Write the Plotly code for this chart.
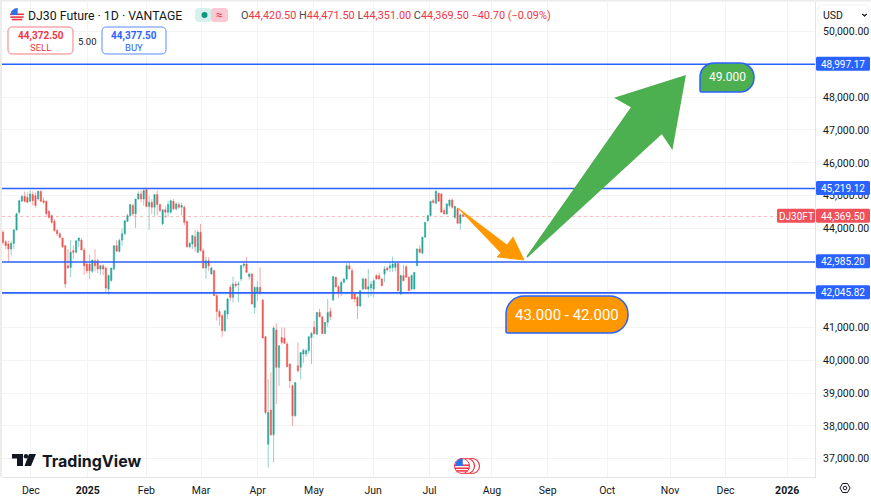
import plotly.graph_objects as go

W, H = 871, 497
PX_L, PX_R, PX_T, PX_B = 2, 815, 2, 477

ohlc_rows = [
(43890,43950,43500,43580),(43600,43650,43380,43480),(43530,43630,42970,43380),(43380,43630,43180,43550),
(43550,43990,43380,43960),(43960,44480,43940,44450),(44500,44880,44440,44850),(44830,45030,44830,44980),
(44980,45130,44800,44830),(44950,45100,44780,44800),(44830,45160,44800,45055),(45035,45130,44700,44850),
(45000,45100,44640,44700),(44900,45150,44860,45135),(45125,45170,44800,44830),(44850,44950,44740,44800),
(44830,44850,44400,44450),(44530,44560,44300,44340),(44395,44420,44150,44190),(44220,44280,43900,43940),
(43940,43990,43780,43840),(43840,43890,43690,43735),(43715,43720,43410,43450),(43480,43500,42190,42315),
(42870,43380,42790,42800),(42820,43650,42520,43280),(43330,43480,43080,43280),(43280,43640,43250,43630),
(43630,43730,43430,43715),(43650,43700,43340,43350),(43350,43420,42600,42870),(42920,43000,42640,42720),
(42920,43200,42470,42720),(42700,43050,42650,43045),(43025,43380,42700,42870),(43025,43100,42650,42770),
(42770,42900,42600,42870),(42870,42920,42580,42770),(42800,42850,42050,42190),(42160,42600,41990,42570),
(42420,42800,42380,42800),(42770,43500,42720,43480),(43480,43640,43290,43310),(43310,43700,43270,43635),
(43650,44000,43480,43840),(43840,44240,43800,44240),(44220,44450,44200,44395),(44395,44740,44380,44730),
(44700,44760,44380,44450),(44450,44900,44020,44900),(44900,45130,44880,45055),(45055,45160,44800,44900),
(44900,45200,44700,45155),(45185,45240,44650,44670),(44670,45000,43960,44800),(44800,44900,44450,44650),
(44650,45050,44400,45035),(45035,45160,44400,44730),(44730,44760,44500,44550),(44140,44600,44100,44570),
(44570,44680,44320,44500),(44500,44830,44350,44730),(44500,44880,44450,44850),(44830,44900,44560,44600),
(44600,44800,44550,44750),(44730,44800,44600,44650),(44650,44780,44400,44700),(44650,44710,44100,44190),
(44220,44230,43420,43450),(43450,43600,43400,43550),(43530,43800,43380,43790),(43755,43950,43300,43450),
(43280,43950,43250,43890),(43890,44140,43300,43330),(43330,43400,42780,42800),(42800,43150,42470,43025),
(43025,43130,42700,42870),(42620,42850,42600,42800),(42720,42750,41960,41960),(41960,42000,41200,41480),
(41480,41550,41050,41320),(41350,41400,40710,40895),(40895,41500,40860,41500),(41400,41900,41250,41860),
(42215,42300,41800,41910),(41910,42540,41750,42315),(42315,42400,42200,42265),(42295,42400,41760,42315),
(42470,42900,42400,42875),(42875,42980,42800,42925),(42925,43130,42650,42670),(42540,42660,42450,42620),
(42620,42660,41700,41705),(41605,42230,41420,42215),(42060,42400,41800,42215),(42215,42820,42000,42030),
(41830,41850,40670,40670),(40710,40740,38350,38410),(37445,39420,36730,38410),(38480,39630,37700,37730),
(37730,41030,36890,40975),(40915,41120,38660,39780),(39780,40440,39220,40440),(40690,40990,40480,40540),
(40670,40990,40490,40510),(40490,40560,39790,39800),(39880,39900,39150,39370),(39220,39260,37990,38305),
(38305,39320,38280,39320),(39830,40540,39620,39680),(39780,40230,39420,40235),(40185,40350,39910,40300),
(40185,40340,40100,40290),(40285,40720,40200,40710),(40690,40860,39880,40815),(41000,41200,40770,40810),
(40790,41460,40780,41450),(41450,41560,41300,41320),(41320,41330,40800,40810),(40810,41150,40800,41150),
(41150,41860,41000,41450),(41480,41600,41220,41320),(41830,42550,41800,42540),(42520,42540,42200,42230),
(42230,42280,41900,42060),(42060,42420,41950,42365),(42365,42500,42330,42467),(42467,42950,42430,42870),
(42870,42980,42750,42770),(42720,42800,41860,41860),(42010,42060,41760,41860),(41910,41950,41250,41650),
(41650,42120,41620,42110),(42160,42510,42140,42470),(42470,42500,42150,42160),(42160,42770,41900,42230),
(42190,42400,41950,42310),(42160,42480,41900,42415),(42570,42620,42450,42470),(42570,42670,42450,42470),
(42470,42500,42250,42265),(42620,42850,42370,42770),(42800,42850,42700,42740),(42800,42960,42680,42870),
(42820,43150,42680,42920),(42820,42980,42700,42940),(42940,42960,42100,42110),(42010,42600,41990,42570),
(42570,42900,42400,42415),(42840,42900,42500,42520),(42520,42550,42100,42110),(42160,42610,42130,42570),
(42160,42670,42150,42670),(42870,43400,42860,43380),(43380,43490,43250,43280),(43250,43750,43240,43735),
(43735,44190,43730,44190),(44240,44420,44200,44395),(44395,44840,44380,44830),(44850,44900,44760,44790),
(44770,45170,44750,45135),(45075,45090,44820,44830),(45055,45080,44480,44500),(44550,44620,44430,44445),
(44445,44780,44420,44750),(44700,44880,44650,44870),(44870,44920,44600,44650),(44340,44700,44300,44670),
(44600,44640,44150,44160),(44160,44470,43960,44420),(44420,44471.5,44351,44369.5),
]
opens = [r[0] for r in ohlc_rows]
highs = [r[1] for r in ohlc_rows]
lows = [r[2] for r in ohlc_rows]
closes = [r[3] for r in ohlc_rows]

levels = [48997.17, 45219.12, 42985.20, 42045.82]
level_labels = ["48,997.17", "45,219.12", "42,985.20", "42,045.82"]
last_price = 44369.50
y_ticks = list(range(37000, 51000, 1000))
y_ticks_hidden_by_tags = [49000, 43000, 42000]
x_tick_bars = [10.3, 31.3, 53.0, 73.2, 94.1, 114.9, 136.8, 157.6, 180.7, 201.3, 223.3, 246.5, 267.0, 289.8]
x_tick_labels = ["Dec", "<b>2025</b>", "Feb", "Mar", "Apr", "May", "Jun", "Jul", "Aug", "Sep", "Oct", "Nov", "Dec", "<b>2026</b>"]

FONT = "Roboto"
BLUE = "#2962ff"
RED = "#f23645"
GREEN_TXT = "#089981"
INK = "#131722"

px_per_bar = (463 - 3) / (len(opens) - 1)
x0 = -(3 - PX_L) / px_per_bar
x1 = x0 + (PX_R - PX_L) / px_per_bar
axis_price_per_px = 30.41
axis_anchor_px = 228.6
y_top = 44000 + (axis_anchor_px - PX_T) * axis_price_per_px
y_bot = 44000 - (PX_B - axis_anchor_px) * axis_price_per_px


def fx(p):
    return p / W


def fy(p):
    return 1 - p / H


def val_py(v):
    return 228 - (v - 44000) / 30.44


shapes, annotations = [], []


def poly(points, fill, line=None, lw=0):
    path = "M " + " L ".join(f"{fx(a):.5f},{fy(b):.5f}" for a, b in points) + " Z"
    shapes.append(dict(type="path", xref="paper", yref="paper", path=path, fillcolor=fill,
                       line=dict(color=line or fill, width=lw), layer="above"))


def rrect(x_a, y_a, x_b, y_b, r, fill, line=None, lw=0, sharp_bl=False):
    def P(a, b):
        return f"{fx(a):.5f},{fy(b):.5f}"
    k = 0.45
    bl = 1.5 if sharp_bl else r
    path = (f"M {P(x_a + r, y_a)} L {P(x_b - r, y_a)} "
            f"C {P(x_b - r * k, y_a)} {P(x_b, y_a + r * k)} {P(x_b, y_a + r)} "
            f"L {P(x_b, y_b - r)} C {P(x_b, y_b - r * k)} {P(x_b - r * k, y_b)} {P(x_b - r, y_b)} "
            f"L {P(x_a + bl, y_b)} C {P(x_a + bl * k, y_b)} {P(x_a, y_b - bl * k)} {P(x_a, y_b - bl)} "
            f"L {P(x_a, y_a + r)} C {P(x_a, y_a + r * k)} {P(x_a + r * k, y_a)} {P(x_a + r, y_a)} Z")
    shapes.append(dict(type="path", xref="paper", yref="paper", path=path, fillcolor=fill,
                       line=dict(color=line or fill, width=lw), layer="above"))


def circle(cx, cy, r, fill, line=None, lw=0):
    shapes.append(dict(type="circle", xref="paper", yref="paper", x0=fx(cx - r), x1=fx(cx + r),
                       y0=fy(cy + r), y1=fy(cy - r), fillcolor=fill,
                       line=dict(color=line or fill, width=lw), layer="above"))


def hline(x_a, x_b, py, color, lw=1):
    shapes.append(dict(type="line", xref="paper", yref="paper", x0=fx(x_a), x1=fx(x_b), y0=fy(py), y1=fy(py),
                       line=dict(color=color, width=lw), layer="above"))


def text(px, py, s, size=11, color=INK, anchor="left", family=FONT):
    annotations.append(dict(xref="paper", yref="paper", x=fx(px), y=fy(py + 0.5), text=s, showarrow=False,
                            xanchor=anchor, yanchor="middle", borderpad=0,
                            font=dict(family=family, size=size, color=color)))


def flag(cx, cy, r, outline=None):
    circle(cx, cy, r, "#ffffff", outline or "#f0f0f0", 1 if outline else 0)
    for dy in [-0.1, 0.3, 0.65]:
        half = r * (1 - dy * dy) ** 0.5
        hline(cx - half, cx + half, cy + dy * r, "#f23645", 1.6 if r > 6 else 1.3)
    poly([(cx - r * 0.9, cy - 0.1), (cx - r * 0.8, cy - r * 0.55), (cx - r * 0.35, cy - r * 0.93),
          (cx + r * 0.1, cy - r), (cx + r * 0.1, cy - 0.1)], "#2f6fe8")


# left and top strips of the page
poly([(0, 0), (2, 0), (2, 477), (0, 477)], "#ececec")
hline(0, 871, 0.8, "#ececec", 1.5)

# price levels and last price
for lv in levels:
    shapes.append(dict(type="line", xref="x domain", yref="y", x0=0, x1=1, y0=lv, y1=lv,
                       line=dict(color=BLUE, width=1.6), layer="above"))
shapes.append(dict(type="line", xref="x domain", yref="y", x0=0, x1=1, y0=last_price, y1=last_price,
                   line=dict(color="rgba(242,54,69,0.35)", width=1, dash="dot"), layer="below"))

# arrows
poly([(458, 208), (507, 245), (513, 237), (524, 260), (497, 257), (501, 253)], "#ff9800", lw=0.8)
poly([(527, 257), (632, 107), (616, 98), (685, 76), (672, 148), (662, 133)], "#4caf50", lw=1.5)

# text boxes
rrect(700, 63, 754, 92, 14, "#4caf50", BLUE, 1.5, sharp_bl=True)
text(727, 77, "49.000", 12, "#ffffff", "center")
rrect(506, 296, 628, 333, 18, "#ff9800", BLUE, 1.5, sharp_bl=True)
text(567, 314.5, "43.000 - 42.000", 15, "#ffffff", "center")

# price axis tags
for lv, s in zip(levels, level_labels):
    p = val_py(lv)
    rrect(816, p - 7, 870, p + 7, 1.5, BLUE)
    text(866, p, s, 10, "#ffffff", "right")
p = val_py(last_price)
rrect(816, p - 7, 870, p + 7, 1.5, "#f0505a")
text(866, p, "44,369.50", 10, "#ffffff", "right")
rrect(777, p - 7, 815, p + 7, 1.5, "#f0505a")
text(796, p, "DJ30FT", 10, "#ffffff", "center")

# currency button
rrect(818, 5, 869, 25, 3, "#ffffff", "#f0f3fa", 1)
text(822, 15, "USD", 10.5, INK)
poly([(862, 14), (864.5, 16.5), (867, 14), (864.5, 15.2)], INK, INK, 0.8)

# header
flag(17, 15, 7)
text(27, 15, "DJ30 Future · 1D · VANTAGE", 12.3, INK)
rrect(195, 8, 212, 22, 3, "#d9f1ed")
rrect(211, 8, 228, 22, 3, "#fbc8d4")
circle(204.5, 15, 3, GREEN_TXT)
text(219, 14.6, "≈", 12, RED, "center")
G = "<span style='color:#434651'>{}</span>"
R = "<span style='color:#f23645'>{}</span>"
text(240, 15, "".join([G.format("O"), R.format("44,420.50"), " ", G.format("H"), R.format("44,471.50"), " ",
                       G.format("L"), R.format("44,351.00"), " ", G.format("C"), R.format("44,369.50"), " ",
                       R.format("−40.70 (−0.09%)")]), 10.9)
rrect(8, 27, 73, 54, 4, "#ffffff", "#f77c80", 1)
text(40.5, 36, "<b>44,372.50</b>", 10, RED, "center")
text(40.5, 47, "SELL", 9.5, RED, "center")
text(87.5, 41, "5.00", 9.5, INK, "center")
rrect(102, 27, 166, 54, 4, "#ffffff", "#5b8cff", 1)
text(134, 36, "<b>44,377.50</b>", 10, BLUE, "center")
text(134, 47, "BUY", 9.5, BLUE, "center")

# watermark
poly([(12, 454), (23, 454), (23, 466), (17, 466), (17, 458.5), (12, 458.5)], INK)
circle(26, 456.2, 2.2, INK)
poly([(29, 454), (36, 454), (31, 466), (24.5, 466)], INK)
text(41, 460, "<b>TradingView</b>", 16, INK, family="Inter")

# event markers
circle(472, 466, 7.5, "rgba(255,255,255,0.9)", "#f23645", 1.2)
circle(467, 466, 7.5, "#ffffff", "#f23645", 1.2)
flag(462, 466, 7.5, "#f23645")

# settings icon
poly([(840, 488), (842.5, 483.5), (847.5, 483.5), (850, 488), (847.5, 492.5), (842.5, 492.5)], "#ffffff", INK, 1)
circle(845, 488, 1.8, "#ffffff", INK, 1)

fig = go.Figure(go.Candlestick(
    x=list(range(len(opens))), open=opens, high=highs, low=lows, close=closes,
    increasing=dict(fillcolor="#26a69a", line=dict(color="rgba(38,166,154,0.5)", width=1)),
    decreasing=dict(fillcolor="#ef5350", line=dict(color="rgba(239,83,80,0.5)", width=1)),
    whiskerwidth=0, hoverinfo="skip", showlegend=False,
))
fig.update_layout(
    width=W, height=H, margin=dict(l=0, r=0, t=0, b=0), paper_bgcolor="#ffffff", plot_bgcolor="#ffffff",
    showlegend=False, shapes=shapes, annotations=annotations, font=dict(family=FONT, size=10.5, color=INK),
    xaxis=dict(domain=[fx(PX_L), fx(PX_R)], range=[x0, x1], rangeslider=dict(visible=False), tickmode="array",
               tickvals=x_tick_bars, ticktext=x_tick_labels, showgrid=True, gridcolor="#f3f3f3", gridwidth=1,
               zeroline=False, showline=True, linecolor="#e0e3eb", ticks="outside", ticklen=3,
               tickcolor="rgba(0,0,0,0)", tickfont=dict(family=FONT, size=10.5, color=INK)),
    yaxis=dict(domain=[fy(PX_B), fy(PX_T)], range=[y_bot, y_top], side="right", tickmode="array",
               tickvals=y_ticks,
               ticktext=["" if v in y_ticks_hidden_by_tags else f"{v:,.2f}" for v in y_ticks],
               showgrid=True, gridcolor="#f3f3f3",
               gridwidth=1, zeroline=False, showline=True, linecolor="#e0e3eb", ticks="outside", ticklen=5,
               tickcolor="rgba(0,0,0,0)", tickfont=dict(family=FONT, size=10.5, color=INK)),
)
fig.write_html("out.html", config=dict(displayModeBar=False),
               post_script="document.body.style.margin='0';document.body.style.overflow='hidden';")
